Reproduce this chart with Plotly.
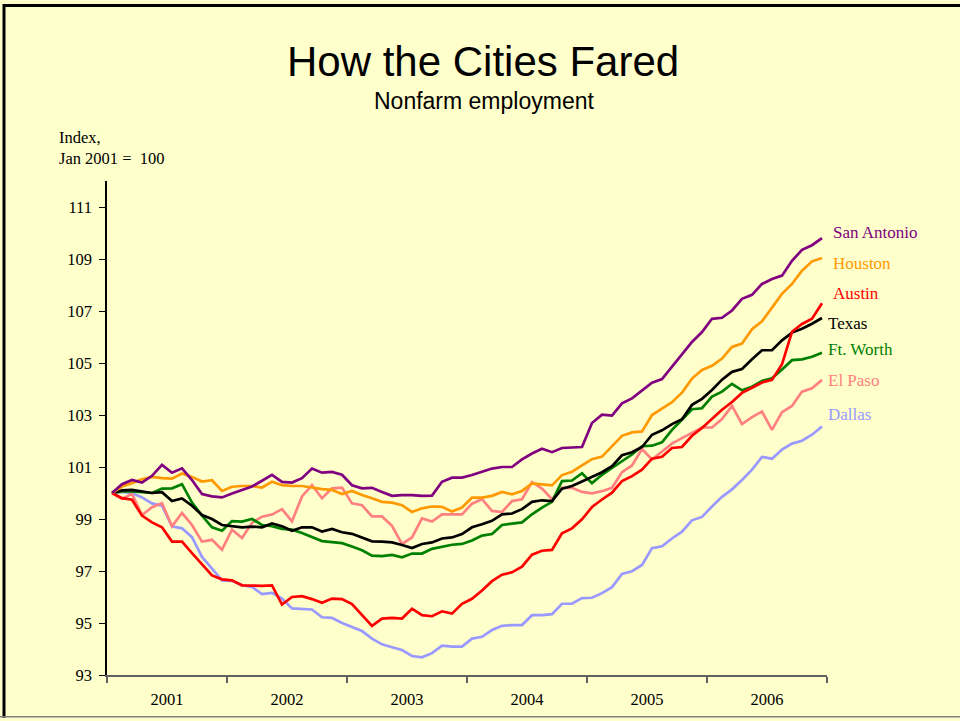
import plotly.graph_objects as go

years = ["2001", "2002", "2003", "2004", "2005", "2006"]
y_ticks = [93, 95, 97, 99, 101, 103, 105, 107, 109, 111]

san_antonio = [100, 100.34, 100.5, 100.4, 100.66, 101.08, 100.78, 100.95, 100.5, 99.96, 99.87, 99.83,
               99.98, 100.1, 100.25, 100.47, 100.7, 100.43, 100.4, 100.57, 100.94, 100.78, 100.81, 100.7,
               100.3, 100.18, 100.2, 100.04, 99.89, 99.92, 99.92, 99.89, 99.9, 100.43, 100.59, 100.59,
               100.69, 100.82, 100.94, 101.0, 101.0, 101.29, 101.52, 101.7, 101.57, 101.73, 101.76, 101.77,
               102.69, 103.01, 102.98, 103.45, 103.64, 103.94, 104.24, 104.38, 104.85, 105.34, 105.81, 106.19,
               106.7, 106.74, 107.02, 107.47, 107.62, 108.04, 108.23, 108.36, 108.93, 109.35, 109.53, 109.8]
houston = [100, 100.25, 100.38, 100.53, 100.62, 100.57, 100.55, 100.75, 100.62, 100.44, 100.49, 100.08,
           100.24, 100.27, 100.27, 100.21, 100.43, 100.3, 100.27, 100.27, 100.21, 100.15, 100.12, 99.96,
           100.08, 99.92, 99.8, 99.66, 99.63, 99.53, 99.27, 99.41, 99.48, 99.47, 99.29, 99.44,
           99.82, 99.82, 99.89, 100.04, 99.95, 100.08, 100.37, 100.33, 100.29, 100.69, 100.82, 101.06,
           101.3, 101.4, 101.8, 102.2, 102.33, 102.37, 103.0, 103.24, 103.49, 103.86, 104.4, 104.73,
           104.89, 105.17, 105.62, 105.75, 106.3, 106.6, 107.15, 107.66, 108.04, 108.55, 108.91, 109.04]
austin = [100, 99.8, 99.74, 99.13, 98.87, 98.68, 98.13, 98.13, 97.69, 97.25, 96.83, 96.68,
          96.64, 96.45, 96.43, 96.43, 96.45, 95.71, 96.0, 96.03, 95.92, 95.78, 95.94, 95.92,
          95.73, 95.3, 94.89, 95.17, 95.2, 95.17, 95.55, 95.3, 95.26, 95.45, 95.36, 95.74,
          95.93, 96.25, 96.61, 96.86, 96.95, 97.17, 97.63, 97.78, 97.81, 98.45, 98.64, 98.99,
          99.46, 99.75, 100.01, 100.46, 100.65, 100.9, 101.32, 101.39, 101.73, 101.77, 102.2, 102.5,
          102.85, 103.2, 103.5, 103.85, 104.05, 104.25, 104.35, 104.95, 106.2, 106.5, 106.7, 107.3]
texas = [100, 100.1, 100.12, 100.06, 100, 100.03, 99.69, 99.79, 99.51, 99.15, 99.0, 98.77,
         98.72, 98.68, 98.71, 98.68, 98.83, 98.72, 98.55, 98.68, 98.68, 98.52, 98.62, 98.49,
         98.43, 98.3, 98.14, 98.13, 98.1, 98.0, 97.88, 98.04, 98.1, 98.25, 98.29, 98.42,
         98.68, 98.8, 98.93, 99.18, 99.21, 99.38, 99.66, 99.72, 99.69, 100.17, 100.27, 100.44,
         100.62, 100.8, 101.03, 101.45, 101.57, 101.77, 102.24, 102.41, 102.65, 102.84, 103.39, 103.62,
         103.96, 104.36, 104.66, 104.77, 105.14, 105.49, 105.49, 105.87, 106.17, 106.32, 106.51, 106.73]
ft_worth = [100, 100.06, 100.06, 100.04, 100, 100.17, 100.18, 100.34, 99.63, 99.13, 98.68, 98.55,
            98.92, 98.9, 99.0, 98.77, 98.72, 98.62, 98.59, 98.46, 98.3, 98.15, 98.11, 98.07,
            97.94, 97.8, 97.59, 97.57, 97.62, 97.53, 97.67, 97.67, 97.85, 97.94, 98.01, 98.04,
            98.17, 98.36, 98.42, 98.77, 98.83, 98.87, 99.18, 99.44, 99.66, 100.46, 100.48, 100.76,
            100.38, 100.7, 100.97, 101.22, 101.48, 101.8, 101.82, 101.95, 102.43, 102.82, 103.22, 103.26,
            103.71, 103.9, 104.2, 103.95, 104.09, 104.31, 104.41, 104.75, 105.11, 105.14, 105.24, 105.39]
el_paso = [100, 99.77, 99.97, 99.15, 99.45, 99.61, 98.72, 99.23, 98.77, 98.13, 98.2, 97.82,
           98.59, 98.27, 98.85, 99.09, 99.17, 99.38, 98.91, 99.87, 100.3, 99.8, 100.18, 100.21,
           99.6, 99.53, 99.1, 99.1, 98.74, 98.04, 98.29, 99.02, 98.9, 99.18, 99.18, 99.18,
           99.59, 99.76, 99.31, 99.27, 99.69, 99.76, 100.42, 100.17, 99.76, 100.2, 100.2, 100.04,
           99.99, 100.07, 100.2, 100.8, 101.06, 101.69, 101.29, 101.6, 101.9, 102.11, 102.31, 102.52,
           102.52, 102.84, 103.35, 102.65, 102.92, 103.13, 102.43, 103.11, 103.35, 103.9, 104.03, 104.35]
dallas = [100, 100.04, 100, 99.83, 99.6, 99.51, 98.72, 98.64, 98.3, 97.54, 97.09, 96.64,
          96.62, 96.45, 96.39, 96.11, 96.16, 95.94, 95.56, 95.54, 95.52, 95.22, 95.2, 95.0,
          94.86, 94.69, 94.4, 94.18, 94.07, 93.96, 93.73, 93.68, 93.84, 94.13, 94.09, 94.09,
          94.4, 94.47, 94.73, 94.89, 94.92, 94.92, 95.3, 95.3, 95.34, 95.74, 95.74, 95.96,
          95.97, 96.15, 96.38, 96.89, 96.99, 97.23, 97.88, 97.95, 98.25, 98.51, 98.95, 99.08,
          99.48, 99.85, 100.14, 100.5, 100.9, 101.39, 101.32, 101.67, 101.9, 102.01, 102.24, 102.56]

series = [
    ("Dallas", dallas, "#9999FF"),
    ("El Paso", el_paso, "#FF8080"),
    ("Ft. Worth", ft_worth, "#008000"),
    ("Texas", texas, "#000000"),
    ("Austin", austin, "#FF0000"),
    ("Houston", houston, "#FF9900"),
    ("San Antonio", san_antonio, "#800080"),
]

months = list(range(len(texas)))

W, H = 960, 721
L, R, T, B = 107, 133, 181, 43
PW, PH = W - L - R, H - T - B


def px(xp):
    return (xp - L) / PW


def py(yp):
    return (H - B - yp) / PH


fig = go.Figure()
for name, vals, col in series:
    fig.add_trace(go.Scatter(x=months, y=vals, mode="lines", name=name,
                             line=dict(color=col, width=2.7), hoverinfo="x+y+name"))

serif = "Liberation Serif, Times New Roman, serif"
sans = "Liberation Sans, Arial, sans-serif"

# right-hand labels (pixel positions of label centers)
label_pos = {"San Antonio": (831, 233), "Houston": (831, 264), "Austin": (831, 294),
             "Texas": (826, 324), "Ft. Worth": (826, 351), "El Paso": (826, 382),
             "Dallas": (826, 416)}
annotations = []
for name, vals, col in series:
    lx, ly = label_pos[name]
    annotations.append(dict(text=name, x=px(lx), y=py(ly), xref="paper", yref="paper",
                            xanchor="left", yanchor="middle", showarrow=False,
                            font=dict(family=serif, size=17, color=col)))

annotations += [
    dict(text="How the Cities Fared", x=px(483), y=py(61), xref="paper", yref="paper",
         xanchor="center", yanchor="middle", showarrow=False,
         font=dict(family=sans, size=42, color="#000000")),
    dict(text="Nonfarm employment", x=px(484), y=py(101), xref="paper", yref="paper",
         xanchor="center", yanchor="middle", showarrow=False,
         font=dict(family=sans, size=23, color="#000000")),
    dict(text="Index,<br>Jan 2001 =&nbsp;&nbsp;100", x=px(57), y=py(148), xref="paper", yref="paper",
         xanchor="left", yanchor="middle", align="left", showarrow=False,
         font=dict(family=serif, size=16.5, color="#000000")),
]

shapes = [
    dict(type="line", xref="paper", yref="paper", x0=px(4), x1=px(4), y0=py(3), y1=py(721),
         line=dict(color="#000000", width=3)),
    dict(type="line", xref="paper", yref="paper", x0=px(3), x1=px(960), y0=py(4.5), y1=py(4.5),
         line=dict(color="#000000", width=3)),
    dict(type="line", xref="paper", yref="paper", x0=px(0), x1=px(960), y0=py(720), y1=py(720),
         line=dict(color="#808080", width=1.5)),
]

n = len(months)
fig.update_layout(
    width=W, height=H,
    margin=dict(l=L, r=R, t=T, b=B),
    paper_bgcolor="#FFFFCC", plot_bgcolor="#FFFFCC",
    showlegend=False,
    annotations=annotations,
    shapes=shapes,
    xaxis=dict(
        range=[-0.5, n - 0.5],
        tickmode="array",
        tickvals=[12 * i + 5.5 for i in range(len(years))],
        ticktext=years,
        ticks="outside", ticklen=0, tickcolor="rgba(0,0,0,0)",
        ticklabelstandoff=8,
        tickfont=dict(family=serif, size=16.5, color="#000000"),
        showline=True, linecolor="#606060", linewidth=1.5,
        showgrid=False, zeroline=False,
        minor=dict(tickmode="array", tickvals=[12 * i - 0.5 for i in range(len(years) + 1)],
                   ticks="outside", ticklen=6, tickcolor="#606060", tickwidth=1.5, showgrid=False),
    ),
    yaxis=dict(
        range=[93, 112],
        tickmode="array", tickvals=y_ticks, ticktext=[str(v) for v in y_ticks],
        ticks="outside", ticklen=6, tickcolor="#000000", tickwidth=1,
        ticklabelstandoff=4,
        tickfont=dict(family=serif, size=16.5, color="#000000"),
        showline=True, linecolor="#000000", linewidth=1.5,
        showgrid=False, zeroline=False,
    ),
)

fig.write_html("out.html", config={"displayModeBar": False},
               post_script="document.body.style.margin='0';")
